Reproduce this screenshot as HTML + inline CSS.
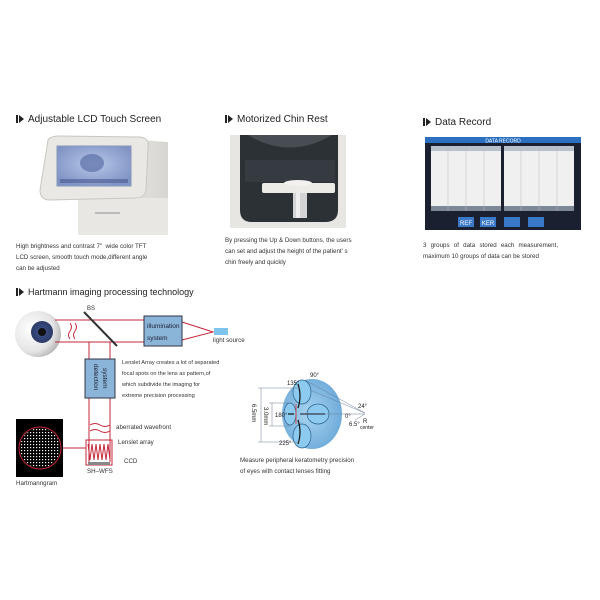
<!DOCTYPE html>
<html><head><meta charset="utf-8"><style>
body{margin:0;background:#fff;width:600px;height:600px;position:relative;overflow:hidden;font-family:"Liberation Sans",sans-serif;color:#222}
.t{position:absolute;font-size:10px;white-space:nowrap;color:#222}
.t b{display:inline-block;width:2px;height:8px;background:#222;margin-right:1px;vertical-align:-1px}
.t i{display:inline-block;width:0;height:0;border-left:5px solid #222;border-top:4px solid transparent;border-bottom:4px solid transparent;margin-right:4px;vertical-align:-1px}
.p{position:absolute;font-size:6.2px;line-height:11px;color:#333;white-space:nowrap}
</style></head><body>
<div class="t" style="left:16px;top:114px">  <b></b><i></i>Adjustable LCD Touch Screen</div>
<div class="t" style="left:225px;top:114px"><b></b><i></i>Motorized Chin Rest</div>
<div class="t" style="left:423px;top:117px"><b></b><i></i>Data Record</div>

<svg style="position:absolute;left:0;top:0" width="600" height="600">
<defs>
<linearGradient id="gb" x1="0" x2="1"><stop offset="0" stop-color="#f2f1ee"/><stop offset="1" stop-color="#d8d6d1"/></linearGradient>
<radialGradient id="scr" cx="0.5" cy="0.45" r="0.6"><stop offset="0" stop-color="#b8c8e8"/><stop offset="1" stop-color="#7f93c4"/></radialGradient>
<radialGradient id="eye" cx="0.35" cy="0.4" r="0.7"><stop offset="0" stop-color="#fff"/><stop offset="0.7" stop-color="#e4e4e4"/><stop offset="1" stop-color="#b0b0b0"/></radialGradient>
<radialGradient id="iris" cx="0.5" cy="0.5" r="0.5"><stop offset="0" stop-color="#223"/><stop offset="0.35" stop-color="#3a4d84"/><stop offset="1" stop-color="#2b3a66"/></radialGradient>
<radialGradient id="sph" cx="0.45" cy="0.5" r="0.6"><stop offset="0" stop-color="#a8d4f0"/><stop offset="1" stop-color="#6aa8d8"/></radialGradient>
<pattern id="dots" width="3" height="3" patternUnits="userSpaceOnUse"><rect width="1.2" height="1.2" fill="#fff"/></pattern>
<clipPath id="cc"><circle cx="40" cy="448" r="20"/></clipPath>
</defs>
<path d="M140 140 L168 142 L168 235 L90 235 L80 200 L140 195Z" fill="url(#gb)"/>
<rect x="78" y="198" width="90" height="37" fill="#e8e7e3"/>
<rect x="95" y="212" width="25" height="2" fill="#bbb"/>
<path d="M48 140 Q50 136 60 136 L140 137 Q150 138 148 148 L146 190 Q145 198 135 198 L50 200 Q40 200 40 190Z" fill="#e9e8e4" stroke="#c8c6c0"/>
<rect x="57" y="146" width="74" height="40" fill="url(#scr)" stroke="#8899bb"/>
<ellipse cx="92" cy="163" rx="12" ry="9" fill="#5b6fa6" opacity="0.7"/>
<rect x="60" y="179" width="68" height="4" fill="#4a5a90" opacity="0.6"/>

<rect x="230" y="135" width="116" height="93" fill="#e8e6e2"/>
<path d="M240 135 L338 135 L338 210 Q338 222 325 222 L252 222 Q240 222 240 210Z" fill="#2c3136"/>
<path d="M248 135 Q290 160 332 135Z" fill="#474d53"/>
<rect x="245" y="160" width="90" height="22" fill="#353b41"/>
<rect x="262" y="183" width="73" height="10" rx="2" fill="#ecebe6"/>
<ellipse cx="298" cy="183" rx="14" ry="3" fill="#f3f2ee"/>
<rect x="293" y="193" width="14" height="25" fill="#d4d4d4"/>
<rect x="296" y="193" width="4" height="25" fill="#eee"/>

<rect x="425" y="137" width="156" height="93" fill="#1a2030"/>
<rect x="425" y="137" width="156" height="6" fill="#2a6fc0"/>
<text x="503" y="142.5" font-size="5" fill="#fff" text-anchor="middle" font-family="Liberation Sans">DATA RECORD</text>
<rect x="431" y="146" width="70" height="65" fill="#f0f0f0"/>
<rect x="504" y="146" width="70" height="65" fill="#f0f0f0"/>
<rect x="431" y="146" width="70" height="5" fill="#b8c0cc"/>
<rect x="504" y="146" width="70" height="5" fill="#b8c0cc"/>
<rect x="431" y="206" width="70" height="5" fill="#7c8898"/>
<rect x="504" y="206" width="70" height="5" fill="#7c8898"/>
<g stroke="#bbb" stroke-width="0.5"><line x1="448" y1="146" x2="448" y2="211"/><line x1="466" y1="146" x2="466" y2="211"/><line x1="484" y1="146" x2="484" y2="211"/><line x1="521" y1="146" x2="521" y2="211"/><line x1="539" y1="146" x2="539" y2="211"/><line x1="557" y1="146" x2="557" y2="211"/></g>
<rect x="458" y="217" width="16" height="10" fill="#3a78c8"/><rect x="480" y="217" width="16" height="10" fill="#3a78c8"/><rect x="504" y="217" width="16" height="10" fill="#3a78c8"/><rect x="528" y="217" width="16" height="10" fill="#3a78c8"/>
<text x="466" y="225" font-size="6" fill="#fff" text-anchor="middle">REF</text><text x="488" y="225" font-size="6" fill="#fff" text-anchor="middle">KER</text>

<circle cx="38" cy="334" r="23" fill="url(#eye)"/>
<circle cx="42" cy="332" r="11" fill="url(#iris)"/>
<circle cx="42" cy="332" r="4" fill="#111"/>
<rect x="16" y="419" width="47" height="58" fill="#000"/>
<rect x="18" y="426" width="44" height="44" fill="url(#dots)" clip-path="url(#cc)"/>
<g stroke="#c4283a" stroke-width="1" fill="none">
<line x1="55" y1="320" x2="144" y2="320"/><line x1="55" y1="342" x2="144" y2="342"/>
<line x1="89" y1="342" x2="89" y2="462"/><line x1="110" y1="342" x2="110" y2="462"/>
<path d="M182 322 L213 332 L182 340"/>
<line x1="63" y1="448" x2="86" y2="448"/>
<path d="M70 323 q3 4 0 8 q-3 4 0 8 M75 323 q3 4 0 8 q-3 4 0 8"/>
<path d="M90 425 q5 -3 10 0 q5 3 10 0 M90 431 q5 -3 10 0 q5 3 10 0"/>
<rect x="86" y="440" width="26" height="25"/>
<path d="M88 444 l2 16 l2 -16 l2 16 l2 -16 l2 16 l2 -16 l2 16 l2 -16 l2 16 l2 -16 l2 16"/>
<circle cx="40" cy="448" r="21"/>
</g>
<line x1="84" y1="312" x2="117" y2="346" stroke="#333" stroke-width="2"/>
<rect x="144" y="316" width="38" height="30" fill="#8ab4d8" stroke="#334"/>
<text x="147" y="328" font-size="6.5" fill="#223">illumination</text>
<text x="147" y="340" font-size="6.5" fill="#223">system</text>
<rect x="214" y="328" width="14" height="7" fill="#7fc4ec"/>
<rect x="85" y="359" width="30" height="39" fill="#8ab4d8" stroke="#334"/>
<text transform="translate(94,364) rotate(90)" font-size="6.5" fill="#223">detection</text>
<text transform="translate(103,368) rotate(90)" font-size="6.5" fill="#223">system</text>
<rect x="88" y="462" width="22" height="3" fill="#888"/>

<ellipse cx="312" cy="414" rx="30" ry="35" fill="url(#sph)"/>
<g fill="#8ccbef" stroke="#2a5f8a" stroke-width="0.7">
<ellipse cx="302" cy="392" rx="9" ry="12"/><ellipse cx="302" cy="436" rx="9" ry="12"/>
<ellipse cx="290" cy="414" rx="6" ry="11"/><ellipse cx="318" cy="414" rx="11" ry="10"/>
</g>
<g stroke="#111" stroke-width="1.2" fill="none"><line x1="300" y1="414" x2="325" y2="414"/><path d="M298 384 q4 12 0 24"/><path d="M298 420 q4 12 0 24"/><line x1="288" y1="414" x2="294" y2="414"/></g>
<line x1="296" y1="404" x2="296" y2="424" stroke="#d33" stroke-width="0.8"/>
<g stroke="#6a7f99" stroke-width="0.5" fill="none">
<line x1="258" y1="388" x2="300" y2="388"/><line x1="258" y1="442" x2="300" y2="442"/><line x1="261" y1="388" x2="261" y2="442"/>
<line x1="269" y1="403" x2="290" y2="403"/><line x1="269" y1="426" x2="290" y2="426"/><line x1="272" y1="403" x2="272" y2="426"/>
<line x1="305" y1="380" x2="365" y2="413"/><line x1="300" y1="414" x2="365" y2="414"/><line x1="310" y1="390" x2="365" y2="413"/><line x1="355" y1="420" x2="365" y2="414"/>
</g>
<g font-size="6" fill="#222">
<text x="310" y="377">90°</text><text x="287" y="385">135°</text><text x="275" y="417">180°</text><text x="279" y="445">225°</text>
<text x="358" y="408">24°</text><text x="345" y="418">0°</text><text x="349" y="426">6.5°</text><text x="363" y="423">R</text><text x="360" y="429" font-size="5">center</text>
<text transform="translate(252,404) rotate(90)">6.5mm</text><text transform="translate(264,407) rotate(90)">3.0mm</text>
</g>
</svg>

<div class="p" style="left:16px;top:241px">High brightness and contrast 7"&nbsp; wide color TFT<br>LCD screen, smooth touch mode,different angle<br>can be adjusted</div>
<div class="p" style="left:225px;top:235px">By pressing the Up &amp; Down buttons, the users<br>can set and adjust the height of the patient' s<br>chin freely and quickly</div>
<div class="p" style="left:423px;top:240px;word-spacing:2.5px">3 groups of data stored each measurement,<br><span style="word-spacing:0">maximum 10 groups of data can be stored</span></div>
<div class="t" style="left:16px;top:287px;font-size:9px"><b></b><i></i>Hartmann imaging processing technology</div>
<div class="p" style="left:213px;top:335px">light source</div>
<div class="p" style="left:122px;top:358px;font-size:5.6px">Lenslet Array creates a lot of separated<br>focal spots on the lens as pattern,of<br>which subdivide the imaging for<br>extreme precision processing</div>
<div class="p" style="left:116px;top:422px">aberrated wavefront</div>
<div class="p" style="left:118px;top:437px">Lenslet array</div>
<div class="p" style="left:124px;top:456px">CCD</div>
<div class="p" style="left:87px;top:466px">SH–WFS</div>
<div class="p" style="left:16px;top:478px">Hartmanngram</div>
<div class="p" style="left:240px;top:455px">Measure peripheral keratometry precision<br>of eyes with contact lenses fitting</div>
<div class="p" style="left:87px;top:304px;font-size:6px">BS</div>
</body></html>
